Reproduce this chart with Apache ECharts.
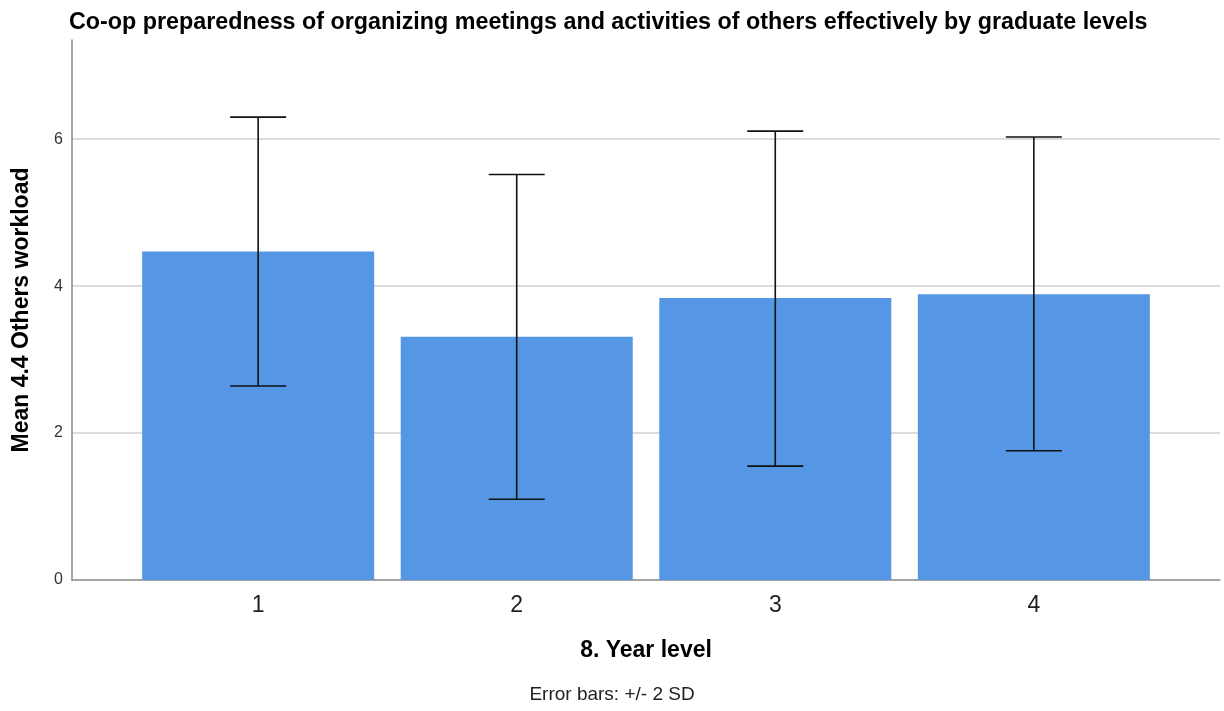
<!DOCTYPE html>
<html>
<head>
<meta charset="utf-8">
<script src="https://cdn.jsdelivr.net/npm/echarts@6/dist/echarts.min.js"></script>
<style>
html,body{margin:0;padding:0;background:#fff;}
#chart{width:1224px;height:711px;}
</style>
</head>
<body>
<div id="chart"></div>
<script>
const titleText = 'Co-op preparedness of organizing meetings and activities of others effectively by graduate levels';
const xAxisName = '8. Year level';
const yAxisName = 'Mean 4.4 Others workload';
const footnote = 'Error bars: +/- 2 SD';
const categories = ['1', '2', '3', '4'];
const means = [4.47, 3.31, 3.84, 3.89];
const upper = [6.30, 5.52, 6.11, 6.03];
const lower = [2.64, 1.10, 1.55, 1.76];
const yTicks = [0, 2, 4, 6];

const positions = categories.map((c, i) => i + 1);
const barData = positions.map((p, i) => [p, means[i]]);
const errData = positions.map((p, i) => [p, lower[i], upper[i]]);

const chart = echarts.init(document.getElementById('chart'), null, {renderer: 'canvas'});
const font = '"Liberation Sans", Arial, sans-serif';

chart.setOption({
  animation: false,
  backgroundColor: '#ffffff',
  textStyle: {fontFamily: font},
  title: {
    text: titleText,
    left: 64, top: 6,
    textStyle: {fontFamily: font, fontSize: 23.3, fontWeight: 'bold', color: '#000'}
  },
  grid: {left: 72, right: 4, top: 40, bottom: 131},
  xAxis: {
    type: 'value',
    min: 0.28, max: 4.72,
    name: xAxisName,
    nameLocation: 'middle',
    nameGap: 59,
    nameTextStyle: {fontFamily: font, fontSize: 23, fontWeight: 'bold', color: '#000'},
    axisLine: {show: true, lineStyle: {color: '#888', width: 1.5}},
    axisTick: {show: false},
    splitLine: {show: false},
    axisLabel: {
      customValues: positions,
      formatter: v => categories[Math.round(v) - 1],
      fontSize: 23, color: '#222', margin: 14, fontFamily: font
    }
  },
  yAxis: {
    type: 'value',
    min: 0, max: 7.35, interval: 2,
    name: yAxisName,
    nameLocation: 'middle',
    nameGap: 39,
    nameTextStyle: {fontFamily: font, fontSize: 23, fontWeight: 'bold', color: '#000'},
    axisLine: {show: true, lineStyle: {color: '#888', width: 1.5}},
    axisTick: {show: false},
    axisLabel: {customValues: yTicks, fontSize: 16, color: '#333', margin: 9, fontFamily: font},
    splitLine: {show: true, showMaxLine: false, showMinLine: false, lineStyle: {color: '#cfcfcf', width: 1.5}}
  },
  series: [
    {
      type: 'bar',
      data: barData,
      barWidth: 232,
      itemStyle: {color: '#5596e5'},
      z: 2
    },
    {
      type: 'custom',
      data: errData,
      z: 5,
      renderItem: function (params, api) {
        const x = api.value(0);
        const lo = api.coord([x, api.value(1)]);
        const hi = api.coord([x, api.value(2)]);
        const cap = 28;
        const style = {stroke: '#111', lineWidth: 1.6};
        return {
          type: 'group',
          children: [
            {type: 'line', shape: {x1: lo[0], y1: lo[1], x2: hi[0], y2: hi[1]}, style: style},
            {type: 'line', shape: {x1: hi[0] - cap, y1: hi[1], x2: hi[0] + cap, y2: hi[1]}, style: style},
            {type: 'line', shape: {x1: lo[0] - cap, y1: lo[1], x2: lo[0] + cap, y2: lo[1]}, style: style}
          ]
        };
      }
    }
  ],
  graphic: [
    {
      type: 'text',
      left: 'center',
      top: 685,
      style: {text: footnote, fontFamily: font, fontSize: 19, fill: '#222'}
    }
  ]
});
</script>
</body>
</html>
